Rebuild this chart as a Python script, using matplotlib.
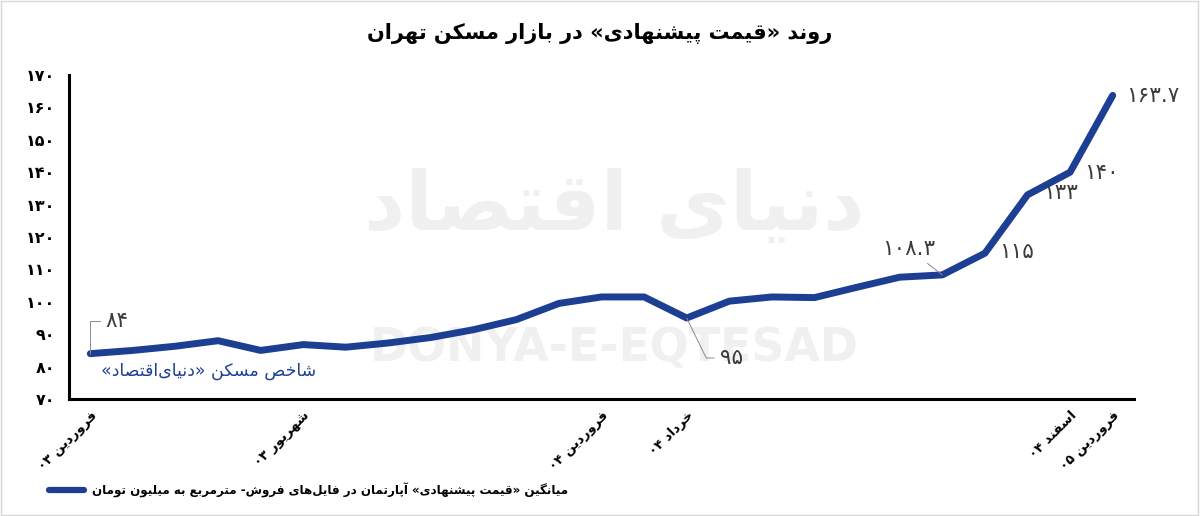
"""Tehran apartment asking-price trend chart (Persian labels)."""
import re
import matplotlib
matplotlib.use('Agg')
import matplotlib.pyplot as plt
from matplotlib.patches import Rectangle

plt.rcParams.update({
    'font.family': ['DejaVu Sans'],
    'axes.linewidth': 2.2,
    'axes.edgecolor': 'black',
})

# ---- data ---------------------------------------------------------------
months = list(range(25))  # Farvardin 1403 .. Farvardin 1405, monthly
price = [84, 85, 86.3, 88, 85, 86.8, 86, 87.3, 89, 91.4, 94.5, 99.5, 101.5,
         101.5, 95, 100.2, 101.5, 101.3, 104.5, 107.6, 108.3, 115, 133, 140,
         163.7]
tick_idx = [0, 5, 12, 14, 23, 24]
tick_names = ['فروردین ۰۳', 'شهریور ۰۳', 'فروردین ۰۴', 'خرداد ۰۴',
              'اسفند ۰۴', 'فروردین ۰۵']
y_ticks = list(range(70, 171, 10))
labelled_idx = [0, 14, 20, 21, 22, 23, 24]

title = 'روند «قیمت پیشنهادی» در بازار مسکن تهران'
legend_text = ('میانگین «قیمت پیشنهادی» آپارتمان در فایل\u200cهای فروش- '
               'مترمربع به میلیون تومان')
index_name = 'شاخص مسکن «دنیای\u200cاقتصاد»'
watermark_fa = 'دنیای اقتصاد'
watermark_en = 'DONYA-E-EQTESAD'

NAVY = '#1c3f94'
GREY = '#3c3c3c'

# ---- minimal Arabic-script shaping (matplotlib has no text shaping) -------
# letter: (isolated, final, initial, medial)
FORMS = {
    'ا': (0xFE8D, 0xFE8E, None, None), 'آ': (0xFE81, 0xFE82, None, None),
    'ب': (0xFE8F, 0xFE90, 0xFE91, 0xFE92), 'پ': (0xFB56, 0xFB57, 0xFB58, 0xFB59),
    'ت': (0xFE95, 0xFE96, 0xFE97, 0xFE98), 'ث': (0xFE99, 0xFE9A, 0xFE9B, 0xFE9C),
    'ج': (0xFE9D, 0xFE9E, 0xFE9F, 0xFEA0), 'چ': (0xFB7A, 0xFB7B, 0xFB7C, 0xFB7D),
    'ح': (0xFEA1, 0xFEA2, 0xFEA3, 0xFEA4), 'خ': (0xFEA5, 0xFEA6, 0xFEA7, 0xFEA8),
    'د': (0xFEA9, 0xFEAA, None, None), 'ذ': (0xFEAB, 0xFEAC, None, None),
    'ر': (0xFEAD, 0xFEAE, None, None), 'ز': (0xFEAF, 0xFEB0, None, None),
    'ژ': (0xFB8A, 0xFB8B, None, None),
    'س': (0xFEB1, 0xFEB2, 0xFEB3, 0xFEB4), 'ش': (0xFEB5, 0xFEB6, 0xFEB7, 0xFEB8),
    'ص': (0xFEB9, 0xFEBA, 0xFEBB, 0xFEBC), 'ض': (0xFEBD, 0xFEBE, 0xFEBF, 0xFEC0),
    'ط': (0xFEC1, 0xFEC2, 0xFEC3, 0xFEC4), 'ظ': (0xFEC5, 0xFEC6, 0xFEC7, 0xFEC8),
    'ع': (0xFEC9, 0xFECA, 0xFECB, 0xFECC), 'غ': (0xFECD, 0xFECE, 0xFECF, 0xFED0),
    'ف': (0xFED1, 0xFED2, 0xFED3, 0xFED4), 'ق': (0xFED5, 0xFED6, 0xFED7, 0xFED8),
    'ک': (0xFB8E, 0xFB8F, 0xFB90, 0xFB91), 'گ': (0xFB92, 0xFB93, 0xFB94, 0xFB95),
    'ل': (0xFEDD, 0xFEDE, 0xFEDF, 0xFEE0), 'م': (0xFEE1, 0xFEE2, 0xFEE3, 0xFEE4),
    'ن': (0xFEE5, 0xFEE6, 0xFEE7, 0xFEE8), 'و': (0xFEED, 0xFEEE, None, None),
    'ه': (0xFEE9, 0xFEEA, 0xFEEB, 0xFEEC), 'ی': (0xFBFC, 0xFBFD, 0xFBFE, 0xFBFF),
}
MIRROR = {'«': '»', '»': '«', '(': ')', ')': '('}


def shape(s):
    out = []
    for i, ch in enumerate(s):
        if ch not in FORMS:
            out.append(ch)
            continue
        f = FORMS[ch]
        prev = s[i - 1] if i > 0 else ''
        nxt = s[i + 1] if i + 1 < len(s) else ''
        jp = prev in FORMS and FORMS[prev][2] is not None
        jn = f[2] is not None and nxt in FORMS
        code = f[3] if (jp and jn) else f[1] if jp else f[2] if jn else f[0]
        out.append(chr(code))
    return ''.join(out).replace('\u200c', '')


def rtl(s):
    """Shape and put into visual (left-to-right) order; digit runs stay LTR."""
    toks = re.findall(r'[0-9\u06F0-\u06F9]+(?:\.[0-9\u06F0-\u06F9]+)?|.', shape(s))
    return ''.join(MIRROR.get(t, t) for t in toks[::-1])


FA = str.maketrans('0123456789', '۰۱۲۳۴۵۶۷۸۹')


def fa_num(v):
    return (f'{v:g}').translate(FA)


# ---- figure ---------------------------------------------------------------
fig = plt.figure(figsize=(12, 5.16), dpi=100)
ax = fig.add_axes([0.0575, 0.2267, 0.8875, 0.628])

# watermark
ax.text(12.3, 129, rtl(watermark_fa), fontsize=58, fontweight='bold',
        color='#f0f0f0', ha='center', va='center', zorder=0)
ax.text(12.3, 85.5, watermark_en, fontsize=33, fontweight='bold',
        color='#f0f0f0', ha='center', va='center', zorder=0)

ax.plot(months, price, color=NAVY, linewidth=5, solid_joinstyle='round',
        solid_capstyle='round', zorder=3, label=rtl(legend_text))

ax.set_xlim(-0.5, 24.5)
ax.set_ylim(70, 170)
ax.set_yticks(y_ticks)
ax.set_yticklabels([fa_num(v) for v in y_ticks], fontweight='bold',
                   fontsize=11.5)
ax.set_xticks(tick_idx)
ax.set_xticklabels([rtl(t) for t in tick_names], rotation=45, ha='right',
                   rotation_mode='anchor', fontweight='bold', fontsize=9.5)
ax.tick_params(axis='y', length=0, pad=10)
ax.tick_params(axis='x', length=0, pad=7)
for sp in ['top', 'right']:
    ax.spines[sp].set_visible(False)

# value labels: (x offset, y offset in pixels, alignment, leader style)
label_pos = {
    0: (15, 33, 'left', 'angle,angleA=0,angleB=90,rad=0'),
    14: (33, -40, 'left', 'angle,angleA=0,angleB=-64,rad=0'),
    20: (-60, 26, 'left', 'arc3'),
    21: (14, 1, 'left', None),
    22: (16, 2, 'left', None),
    23: (14, -1, 'left', None),
    24: (13, -1, 'left', None),
}
for i in labelled_idx:
    dx, dy, ha, style = label_pos[i]
    arrow = None
    if style:
        arrow = dict(arrowstyle='-', color='#8a8a8a', lw=0.7,
                     connectionstyle=style, shrinkA=2, shrinkB=0)
    ax.annotate(fa_num(price[i]), (months[i], price[i]),
                xytext=(dx, dy), textcoords='offset pixels',
                ha=ha, va='center', fontsize=15.5, color=GREY,
                arrowprops=arrow, zorder=4)

ax.text(0.25, 78.6, rtl(index_name), fontsize=12.5, color=NAVY,
        ha='left', va='center', zorder=4)

fig.text(0.5, 0.935, rtl(title), fontsize=15, fontweight='bold',
         ha='center', va='center')

leg = fig.legend(loc='center left', bbox_to_anchor=(0.032, 0.05),
                 frameon=False, handlelength=2.9, handletextpad=0.7,
                 prop={'size': 8.6, 'weight': 'bold'})
for h in leg.legend_handles:
    h.set_linewidth(4.5)

fig.patches.append(Rectangle((0.001, 0.002), 0.997, 0.996,
                             transform=fig.transFigure, fill=False,
                             edgecolor='#d6d6d6', linewidth=1))

fig.savefig('out.png', dpi=100, facecolor='white')
